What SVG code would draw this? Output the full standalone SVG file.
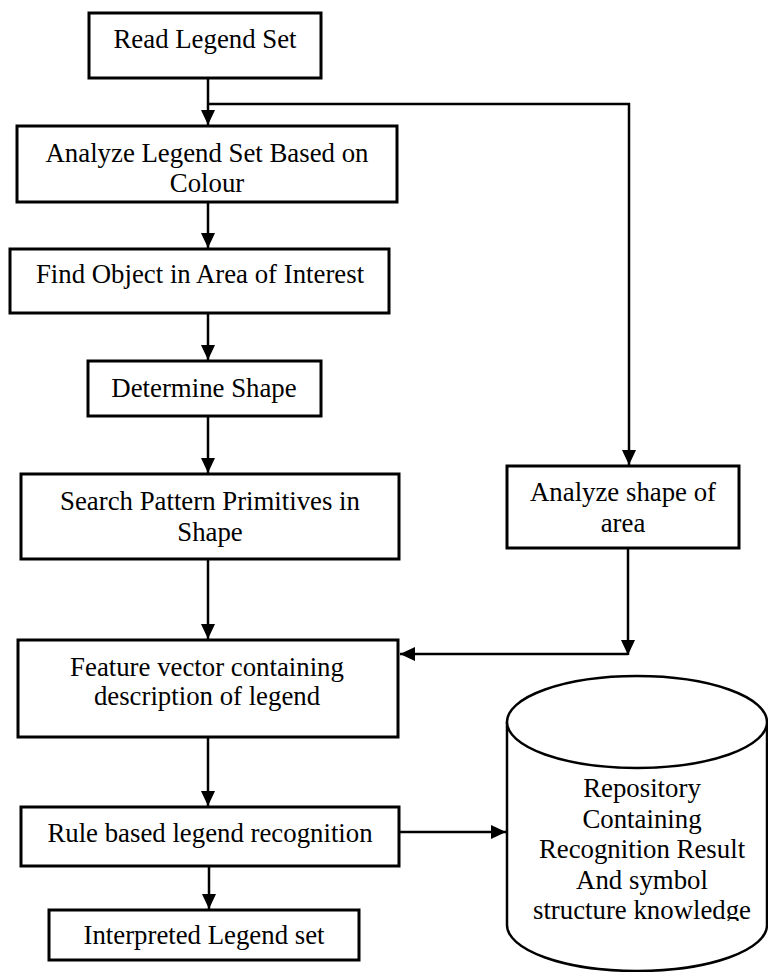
<svg xmlns="http://www.w3.org/2000/svg" width="768" height="972" viewBox="0 0 768 972">
  <style>
    .box { fill: #fff; stroke: #000; stroke-width: 3; }
    .db { fill: #fff; stroke: #000; stroke-width: 2.5; }
    .lbl { font-family: "Liberation Serif", "Times New Roman", serif; font-size: 26.8px; fill: #000; text-anchor: middle; }
    .edge { fill: none; stroke: #000; stroke-width: 2.5; }
    .arr { marker-end: url(#head); }
  </style>
  <defs>
    <marker id="head" markerUnits="userSpaceOnUse" markerWidth="16" markerHeight="16" viewBox="0 0 16 16" refX="15" refY="8" orient="auto">
      <path d="M0,1 L15,8 L0,15 Z" fill="#000"/>
    </marker>
    <clipPath id="dbText">
      <rect x="500" y="760" width="268" height="161"/>
    </clipPath>
  </defs>
  <rect width="768" height="972" fill="#fff"/>

  <!-- connectors -->
  <g id="edges">
    <line class="edge arr" x1="208" y1="78" x2="208" y2="125"/>
    <polyline class="edge arr" points="208,104 629,104 629,465"/>
    <line class="edge arr" x1="208" y1="202" x2="208" y2="248"/>
    <line class="edge arr" x1="208" y1="313" x2="208" y2="360"/>
    <line class="edge arr" x1="208" y1="416" x2="208" y2="473"/>
    <line class="edge arr" x1="208" y1="559" x2="208" y2="639"/>
    <line class="edge arr" x1="208" y1="737" x2="208" y2="806"/>
    <line class="edge arr" x1="209" y1="866" x2="209" y2="909"/>
    <line class="edge arr" x1="628" y1="548" x2="628" y2="655"/>
    <line class="edge arr" x1="628" y1="654" x2="400" y2="654"/>
    <line class="edge arr" x1="399" y1="832" x2="506" y2="832"/>
  </g>

  <g id="read-legend">
    <rect class="box" x="89" y="13" width="232" height="65"/>
    <text class="lbl" x="205" y="48">Read Legend Set</text>
  </g>

  <g id="analyze-colour">
    <rect class="box" x="17" y="126" width="380" height="76"/>
    <text class="lbl" x="207" y="162">Analyze Legend Set Based on</text>
    <text class="lbl" x="207" y="192">Colour</text>
  </g>

  <g id="find-object">
    <rect class="box" x="10" y="249" width="379" height="64"/>
    <text class="lbl" x="200" y="283">Find Object in Area of Interest</text>
  </g>

  <g id="determine-shape">
    <rect class="box" x="88" y="361" width="233" height="55"/>
    <text class="lbl" x="204" y="397">Determine Shape</text>
  </g>

  <g id="search-primitives">
    <rect class="box" x="21" y="474" width="378" height="85"/>
    <text class="lbl" x="210" y="510">Search Pattern Primitives in</text>
    <text class="lbl" x="210" y="541">Shape</text>
  </g>

  <g id="feature-vector">
    <rect class="box" x="18" y="640" width="380" height="97"/>
    <text class="lbl" x="207" y="676">Feature vector containing</text>
    <text class="lbl" x="207" y="705">description of legend</text>
  </g>

  <g id="rule-recognition">
    <rect class="box" x="21" y="807" width="378" height="59"/>
    <text class="lbl" x="210" y="842">Rule based legend recognition</text>
  </g>

  <g id="interpreted-set">
    <rect class="box" x="49" y="910" width="310" height="50"/>
    <text class="lbl" x="204" y="944">Interpreted Legend set</text>
  </g>

  <g id="analyze-area">
    <rect class="box" x="507" y="466" width="232" height="82"/>
    <text class="lbl" x="623" y="501">Analyze shape of</text>
    <text class="lbl" x="623" y="532">area</text>
  </g>

  <g id="repository">
    <path class="db" d="M507,722 V925 A130,46 0 0 0 767,925 V722"/>
    <ellipse class="db" cx="637" cy="722" rx="130" ry="46"/>
    <g clip-path="url(#dbText)">
      <text class="lbl" x="642" y="797">Repository</text>
      <text class="lbl" x="642" y="828">Containing</text>
      <text class="lbl" x="642" y="858">Recognition Result</text>
      <text class="lbl" x="642" y="889">And symbol</text>
      <text class="lbl" x="642" y="919">structure knowledge</text>
    </g>
  </g>
</svg>
